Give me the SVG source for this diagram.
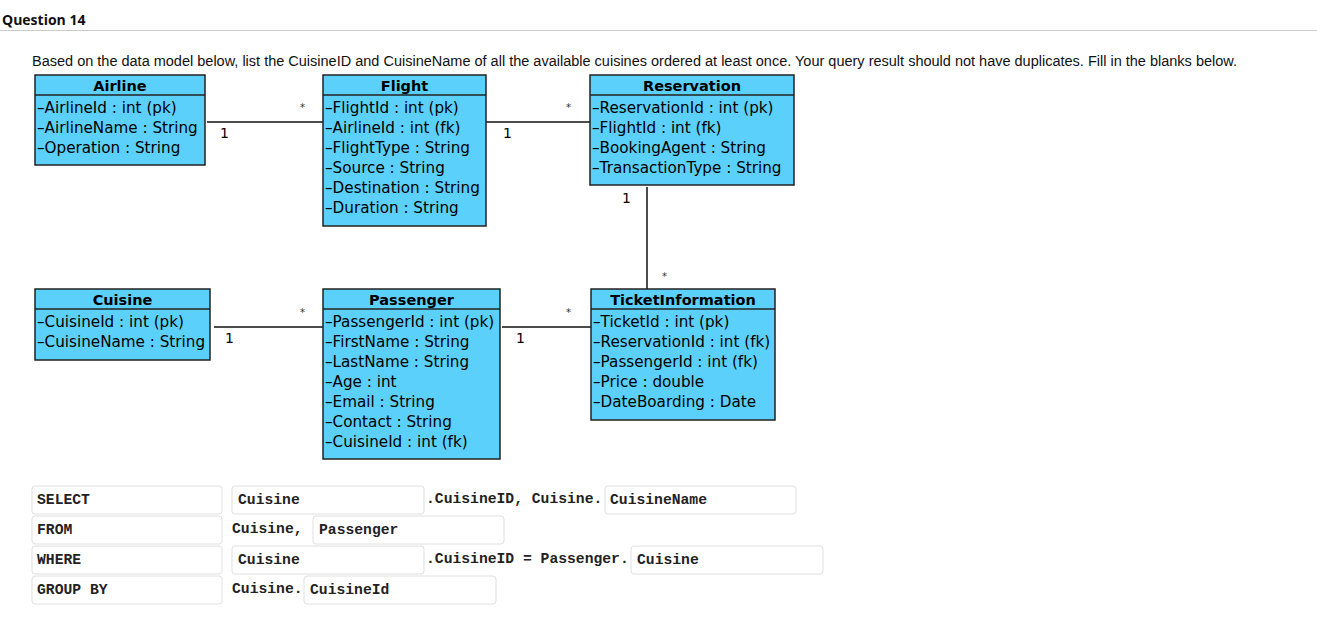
<svg xmlns="http://www.w3.org/2000/svg" width="1317" height="630" viewBox="0 0 1317 630">
<style>
.box{fill:#5bd0fa;stroke:#222;stroke-width:1.5}
.hl{stroke:#222;stroke-width:1.5}
.hd{font-family:"DejaVu Sans",sans-serif;font-weight:bold;font-size:14.5px;fill:#000;text-anchor:middle}
.at{font-family:"DejaVu Sans",sans-serif;font-size:15.2px;fill:#000}
.cn{stroke:#111;stroke-width:1.5;fill:none}
.ml{font-family:"DejaVu Sans",sans-serif;font-size:14px;fill:#000}
.st{font-family:"DejaVu Sans",sans-serif;font-size:10px;fill:#333}
.fb{fill:#fff;stroke:#e0e0e0;stroke-width:1}
.sq{font-family:"Liberation Mono",monospace;font-weight:bold;font-size:14.7px;fill:#222}
</style>
<rect width="1317" height="630" fill="#fff"/>
<text x="2" y="25" font-family="Open Sans,sans-serif" font-weight="bold" font-size="14" fill="#111">Question 14</text>
<line x1="0" y1="30.5" x2="1317" y2="30.5" stroke="#ccc" stroke-width="1"/>
<text x="32" y="66" font-family="Liberation Sans,sans-serif" font-size="14" fill="#111" textLength="1205" lengthAdjust="spacingAndGlyphs">Based on the data model below, list the CuisineID and CuisineName of all the available cuisines ordered at least once. Your query result should not have duplicates. Fill in the blanks below.</text>

<g id="connectors">
<line class="cn" x1="207" y1="122" x2="323" y2="122"/>
<text class="ml" x="220" y="138">1</text><text class="st" x="300" y="111">*</text>
<line class="cn" x1="486" y1="122" x2="590" y2="122"/>
<text class="ml" x="503" y="138">1</text><text class="st" x="566" y="111">*</text>
<line class="cn" x1="647" y1="187" x2="647" y2="289"/>
<text class="ml" x="622" y="203">1</text><text class="st" x="662" y="280">*</text>
<line class="cn" x1="214" y1="327" x2="323" y2="327"/>
<text class="ml" x="225" y="343">1</text><text class="st" x="300" y="316">*</text>
<line class="cn" x1="502" y1="327" x2="591" y2="327"/>
<text class="ml" x="516" y="343">1</text><text class="st" x="566" y="316">*</text>
</g>

<g id="airline">
<rect class="box" x="35" y="75" width="170" height="90"/>
<line class="hl" x1="35" y1="95" x2="205" y2="95"/>
<text class="hd" x="120" y="91">Airline</text>
<text class="at" x="37" y="113">–AirlineId : int (pk)</text>
<text class="at" x="37" y="133">–AirlineName : String</text>
<text class="at" x="37" y="153">–Operation : String</text>
</g>

<g id="flight">
<rect class="box" x="323" y="75" width="163" height="151"/>
<line class="hl" x1="323" y1="95" x2="486" y2="95"/>
<text class="hd" x="404.5" y="91">Flight</text>
<text class="at" x="325" y="113">–FlightId : int (pk)</text>
<text class="at" x="325" y="133">–AirlineId : int (fk)</text>
<text class="at" x="325" y="153">–FlightType : String</text>
<text class="at" x="325" y="173">–Source : String</text>
<text class="at" x="325" y="193">–Destination : String</text>
<text class="at" x="325" y="213">–Duration : String</text>
</g>

<g id="reservation">
<rect class="box" x="590" y="75" width="204" height="110"/>
<line class="hl" x1="590" y1="95" x2="794" y2="95"/>
<text class="hd" x="692" y="91">Reservation</text>
<text class="at" x="592" y="113">–ReservationId : int (pk)</text>
<text class="at" x="592" y="133">–FlightId : int (fk)</text>
<text class="at" x="592" y="153">–BookingAgent : String</text>
<text class="at" x="592" y="173">–TransactionType : String</text>
</g>

<g id="cuisine">
<rect class="box" x="35" y="289" width="175" height="71"/>
<line class="hl" x1="35" y1="309" x2="210" y2="309"/>
<text class="hd" x="122.5" y="305">Cuisine</text>
<text class="at" x="37" y="327">–CuisineId : int (pk)</text>
<text class="at" x="37" y="347">–CuisineName : String</text>
</g>

<g id="passenger">
<rect class="box" x="323" y="289" width="177" height="170"/>
<line class="hl" x1="323" y1="309" x2="500" y2="309"/>
<text class="hd" x="411.5" y="305">Passenger</text>
<text class="at" x="325" y="327">–PassengerId : int (pk)</text>
<text class="at" x="325" y="347">–FirstName : String</text>
<text class="at" x="325" y="367">–LastName : String</text>
<text class="at" x="325" y="387">–Age : int</text>
<text class="at" x="325" y="407">–Email : String</text>
<text class="at" x="325" y="427">–Contact : String</text>
<text class="at" x="325" y="447">–CuisineId : int (fk)</text>
</g>

<g id="ticketinformation">
<rect class="box" x="591" y="289" width="184" height="131"/>
<line class="hl" x1="591" y1="309" x2="775" y2="309"/>
<text class="hd" x="683" y="305">TicketInformation</text>
<text class="at" x="593" y="327">–TicketId : int (pk)</text>
<text class="at" x="593" y="347">–ReservationId : int (fk)</text>
<text class="at" x="593" y="367">–PassengerId : int (fk)</text>
<text class="at" x="593" y="387">–Price : double</text>
<text class="at" x="593" y="407">–DateBoarding : Date</text>
</g>

<g id="sql">
<rect class="fb" x="32" y="486" width="190" height="28" rx="3"/>
<text class="sq" x="37" y="504">SELECT</text>
<rect class="fb" x="232" y="486" width="192" height="28" rx="3"/>
<text class="sq" x="238" y="504">Cuisine</text>
<text class="sq" x="426" y="503">.CuisineID, Cuisine.</text>
<rect class="fb" x="605" y="486" width="191" height="28" rx="3"/>
<text class="sq" x="610" y="504">CuisineName</text>

<rect class="fb" x="32" y="516" width="190" height="28" rx="3"/>
<text class="sq" x="37" y="534">FROM</text>
<text class="sq" x="232" y="533">Cuisine,</text>
<rect class="fb" x="313" y="516" width="191" height="28" rx="3"/>
<text class="sq" x="319" y="534">Passenger</text>

<rect class="fb" x="32" y="546" width="190" height="28" rx="3"/>
<text class="sq" x="37" y="564">WHERE</text>
<rect class="fb" x="232" y="546" width="192" height="28" rx="3"/>
<text class="sq" x="238" y="564">Cuisine</text>
<text class="sq" x="426" y="563">.CuisineID = Passenger.</text>
<rect class="fb" x="631" y="546" width="192" height="28" rx="3"/>
<text class="sq" x="637" y="564">Cuisine</text>

<rect class="fb" x="32" y="576" width="190" height="28" rx="3"/>
<text class="sq" x="37" y="594">GROUP BY</text>
<text class="sq" x="232" y="593">Cuisine.</text>
<rect class="fb" x="304" y="576" width="192" height="28" rx="3"/>
<text class="sq" x="310" y="594">CuisineId</text>
</g>
</svg>
